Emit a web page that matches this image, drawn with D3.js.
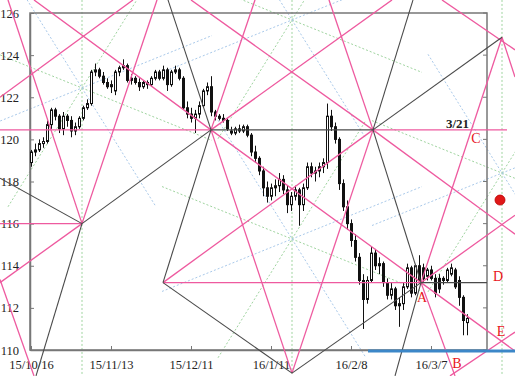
<!DOCTYPE html>
<html>
<head>
<meta charset="utf-8">
<script src="https://cdn.jsdelivr.net/npm/d3@7"></script>
<style>
  body { margin: 0; background: #fff; }
  svg { display: block; font-family: "Liberation Serif", "DejaVu Serif", serif; }
</style>
</head>
<body>
<script>
// daily candles, index = trading day counted from 15/10/16
const opens = [118.9,119.4,119.5,119.8,119.9,120.7,121.4,121.1,120.5,121.1,120.9,120.4,120.6,121.0,121.5,121.7,123.2,123.3,123.0,122.7,
  122.5,122.3,123.2,123.4,123.5,122.8,122.9,122.7,122.5,122.7,122.6,122.9,123.2,122.9,123.3,122.6,123.2,123.3,122.9,121.5,
  121.2,121.0,121.2,121.6,122.3,122.5,121.3,121.1,121.0,120.9,120.4,120.3,120.5,120.4,120.6,120.2,119.4,119.1,118.5,117.7,
  117.3,117.7,117.8,118.1,117.6,116.9,117.3,117.6,116.9,117.7,118.7,118.4,118.5,118.7,118.9,121.1,120.6,120.0,117.9,116.8,
  116.0,115.2,114.4,113.3,112.4,113.3,114.6,114.0,114.1,113.2,112.6,112.9,112.1,112.2,113.0,113.9,112.7,114.0,113.9,113.5,
  113.8,113.4,113.4,113.4,113.3,113.6,113.8,113.3,112.5,111.3];
const highs = [119.5,119.8,120.0,120.1,120.9,121.5,121.5,121.2,121.3,121.2,121.1,120.8,121.1,121.6,121.9,123.3,123.6,123.4,123.2,122.9,
  122.8,123.3,123.5,123.8,123.6,123.1,123.0,122.9,122.8,122.8,123.0,123.3,123.3,123.5,123.4,123.3,123.5,123.4,123.0,121.8,
  121.5,121.4,121.8,122.4,122.7,123.0,121.4,121.2,121.2,121.0,120.6,120.6,120.7,120.7,120.7,120.3,119.7,119.2,118.7,118.0,
  117.9,118.1,118.4,118.3,117.8,117.5,117.8,117.7,117.9,118.9,118.9,118.7,118.9,119.1,121.7,121.4,120.8,120.1,118.1,117.1,
  116.2,115.5,114.6,113.6,113.5,114.9,114.8,114.4,114.2,113.4,113.2,113.0,112.5,113.2,114.1,114.0,114.0,114.5,114.1,113.9,
  114.0,113.6,113.6,113.5,113.9,114.1,113.9,113.5,112.6,111.7];
const lows = [118.7,119.2,119.4,119.6,119.8,120.5,120.9,120.3,120.2,120.6,120.1,120.2,120.5,120.9,121.4,121.6,123.0,122.9,122.6,122.4,
  122.2,122.1,123.0,123.3,122.7,122.6,122.6,122.3,122.4,122.4,122.5,122.8,122.8,122.8,122.3,122.5,123.1,122.8,121.4,121.0,
  120.8,120.3,121.0,121.5,122.1,121.1,120.9,120.9,120.8,120.4,120.2,120.2,120.3,120.3,120.1,119.2,118.9,118.3,117.3,117.0,
  117.1,117.3,117.5,117.4,116.5,116.6,117.1,115.9,116.6,117.6,118.2,118.0,118.2,118.4,118.6,120.4,119.8,117.6,116.6,115.7,
  114.9,114.2,113.1,111.0,112.2,113.2,113.8,113.6,113.0,112.4,112.4,111.9,111.1,111.9,112.9,112.5,112.6,113.2,113.2,113.3,
  113.3,112.5,112.7,113.1,113.2,113.5,112.9,112.1,110.7,110.7];
const closes = [119.4,119.5,119.8,119.9,120.7,121.4,121.1,120.5,121.1,120.9,120.4,120.6,121.0,121.5,121.7,123.2,123.3,123.0,122.7,122.5,
  122.6,123.2,123.4,123.5,122.8,122.9,122.7,122.5,122.7,122.6,122.9,123.2,122.9,123.3,122.6,123.2,123.3,122.9,121.5,121.2,
  121.0,121.2,121.6,122.3,122.5,121.3,121.1,121.0,120.9,120.5,120.3,120.5,120.4,120.6,120.2,119.4,119.1,118.5,117.7,117.3,
  117.7,117.8,118.1,117.6,116.9,117.3,117.6,116.9,117.7,118.7,118.4,118.5,118.7,118.9,121.1,120.6,120.0,117.9,116.8,116.0,
  115.2,114.4,113.3,112.4,113.3,114.6,114.0,114.1,113.2,112.6,112.9,112.1,112.2,113.0,113.9,112.7,114.0,113.3,113.4,113.8,
  113.4,112.7,112.9,113.3,113.8,113.9,113.0,112.5,111.4,111.5];

const tickDays = [0, 20, 40, 60, 80, 100];
const tickLabels = ["15/10/16", "15/11/13", "15/12/11", "16/1/11", "16/2/8", "16/3/7"];
const priceTicks = [110, 112, 114, 116, 118, 120, 122, 124, 126];

// turning points of the drawing, [day, price]
const P1 = [12.75, 116.0], P2 = [45, 120.45], P3 = [33, 113.2], P4 = [85.5, 120.45];
const A = [97.5, 113.2], V = [65.25, 108.9], P6 = [117.75, 124.85];

const pinkLines = [
  [[-7.75, 120.45], P2], [P4, [119, 120.45]],
  [[-7.75, 116.0], P1], [P3, A],
  [P1, [-5.75, 126.62]], [P1, [31.5, 126.62]],
  [[-7.75, 113.2], P1], [[-7.75, 113.35], [0.75, 108.77]],
  [[-7.75, 122.0], [25.5, 126.62]],
  [[0.75, 126.62], P2, A, [121, 109.95]],
  [P2, [90.25, 126.62]], [P2, [56, 126.62]],
  [P2, V], [P4, V],
  [P4, [74.5, 126.62]], [P4, [40, 126.62]],
  [P3, P4], [P4, [121, 115.5]], [A, [121, 116.4]],
  [P6, A], [P6, [121, 122.96]],
  [[102.75, 126.62], [121, 124.25]],
  [A, [106, 108.77]], [[104.75, 108.77], [121, 110.85]]
];
const darkLines = [
  [[-7.75, 118.16], P1], [P1, P2], [P1, [1.25, 108.77]],
  [P2, P4], [P2, [34.25, 126.62]],
  [P3, P2], [P3, V], [V, A],
  [P4, A], [P4, [95.5, 126.62]], [P4, P6],
  [A, [91, 108.77]], [A, [114, 113.2]]
];

const starCenters = [[12.75, 122.44], [65.25, 125.67], [65.25, 115.27], [117.75, 118.4]];
const starSpokes = [[32.5, -2.49], [18.5, -5.64], [18.5, 5.64], [32.5, 2.49]];
const guideDays = [12.75, 65.25, 117.75];

const marks = [
  { t: "A", d: 97.75, p: 112.28 }, { t: "B", d: 106.5, p: 109.15 },
  { t: "C", d: 111.25, p: 119.83 }, { t: "D", d: 116.75, p: 113.28 },
  { t: "E", d: 117.5, p: 110.66 }
];

const width = 515, height = 376;
const svg = d3.select("body").append("svg").attr("width", width).attr("height", height);

const x = d3.scaleLinear().domain([-0.25, 114]).range([30, 487]);
const y = d3.scaleLinear().domain([110, 126]).range([350, 13]);
const line = d3.line().x(d => x(d[0])).y(d => y(d[1]));

// dotted guide stars
const guides = svg.append("g").attr("fill", "none").attr("stroke-width", 1).attr("stroke-dasharray", "2,2");
guideDays.forEach(d => {
  guides.append("path").attr("stroke", "#9fd49f")
    .attr("d", line([[d, 126.62], [d, 108.77]]));
});
starCenters.forEach(c => {
  starSpokes.forEach((s, i) => {
    guides.append("path")
      .attr("stroke", i % 2 ? "#a9c9ea" : "#9fd49f")
      .attr("d", line([[c[0] - s[0], c[1] - s[1]], [c[0] + s[0], c[1] + s[1]]]));
  });
});

// frame and axes
const frame = svg.append("g").attr("fill", "none").attr("stroke", "#777").attr("stroke-width", 1.5);
frame.append("rect").attr("x", x(-0.25)).attr("y", y(126)).attr("width", x(114) - x(-0.25)).attr("height", y(110) - y(126));
frame.selectAll(".rt").data(priceTicks).enter().append("line")
  .attr("x1", x(114) - 4).attr("x2", x(114)).attr("y1", d => y(d)).attr("y2", d => y(d)).attr("stroke-width", 1);

const yAxis = svg.append("g").attr("transform", `translate(${x(-0.25)},0)`)
  .call(d3.axisLeft(y).tickValues(priceTicks).tickSizeInner(-4).tickSizeOuter(0).tickPadding(11).tickFormat(d3.format("d")));
const xAxis = svg.append("g").attr("transform", `translate(0,${y(110)})`)
  .call(d3.axisBottom(x).tickValues(tickDays).tickSizeInner(-4).tickSizeOuter(0).tickPadding(10)
    .tickFormat((d, i) => tickLabels[i]));
[yAxis, xAxis].forEach(g => {
  g.select(".domain").attr("stroke", "#777").attr("stroke-width", 1.5);
  g.selectAll(".tick line").attr("stroke", "#777");
  g.selectAll("text").attr("font-family", "Liberation Serif, serif").attr("font-size", 12.5).attr("fill", "#222");
});

// candles
const candles = svg.append("g").selectAll("g").data(opens).enter().append("g");
candles.append("line")
  .attr("x1", (d, i) => Math.round(x(i)) + 0.5).attr("x2", (d, i) => Math.round(x(i)) + 0.5)
  .attr("y1", (d, i) => y(highs[i])).attr("y2", (d, i) => y(lows[i]))
  .attr("stroke", "#111").attr("stroke-width", 1);
candles.append("rect")
  .attr("x", (d, i) => Math.round(x(i)) - 0.5).attr("width", 2)
  .attr("y", (d, i) => y(Math.max(d, closes[i])))
  .attr("height", (d, i) => Math.max(1, Math.abs(y(d) - y(closes[i]))))
  .attr("fill", (d, i) => closes[i] >= d ? "#fff" : "#111")
  .attr("stroke", "#111").attr("stroke-width", 1);

// drawn lines
svg.append("g").attr("fill", "none").attr("stroke", "#ee5a9f").attr("stroke-width", 1.3)
  .selectAll("path").data(pinkLines).enter().append("path").attr("d", line);
svg.append("g").attr("fill", "none").attr("stroke", "#4a4a4a").attr("stroke-width", 1.1)
  .selectAll("path").data(darkLines).enter().append("path").attr("d", line);

svg.append("path").attr("fill", "none").attr("stroke", "#3c87c8").attr("stroke-width", 3)
  .attr("d", line([[84.25, 109.95], [121, 109.95]]));

svg.append("text").attr("x", x(109.5)).attr("y", y(120.54)).attr("text-anchor", "end")
  .attr("font-size", 13).attr("font-weight", "bold").attr("fill", "#222").text("3/21");

svg.append("g").selectAll("text").data(marks).enter().append("text")
  .attr("x", d => x(d.d)).attr("y", d => y(d.p)).attr("text-anchor", "middle")
  .attr("font-size", 14).attr("fill", "#e8141c").text(d => d.t);

svg.append("circle").attr("cx", x(117.25)).attr("cy", y(117.12)).attr("r", 5)
  .attr("fill", "#e01818").attr("stroke", "#b00").attr("stroke-width", 0.8);
</script>
</body>
</html>
